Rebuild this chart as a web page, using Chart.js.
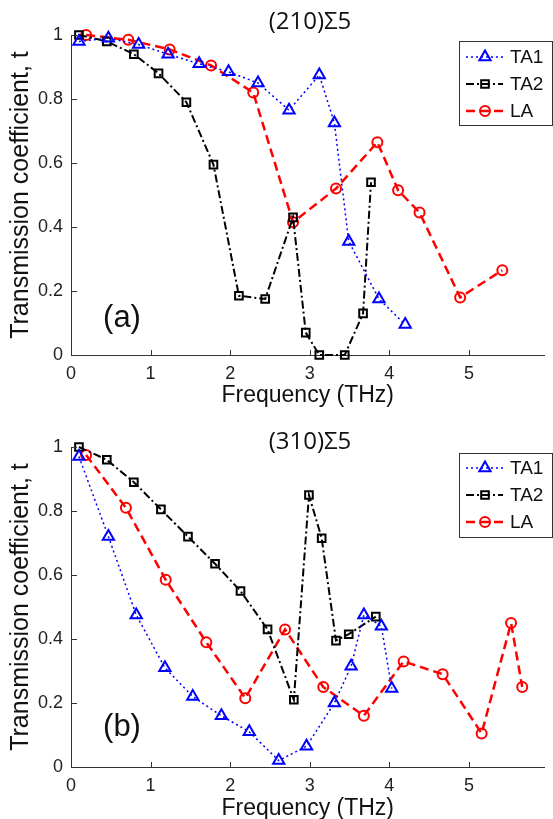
<!DOCTYPE html>
<html lang="en">
<head>
    <meta charset="UTF-8">
    <meta name="viewport" content="width=device-width, initial-scale=1.0">
    <title>Transmission coefficient</title>
    <script src="https://cdn.jsdelivr.net/npm/chart.js"></script>
    <style>
        html, body { margin: 0; padding: 0; background: #fff; }
        body { width: 553px; height: 819px; position: relative; overflow: hidden; }
        .panel { position: absolute; left: 0; width: 553px; }
        #panel-a { top: 0; height: 410px; }
        #panel-b { top: 410px; height: 409px; }
    </style>
</head>
<body>
    <div class="panel" id="panel-a"><canvas id="chart-a"></canvas></div>
    <div class="panel" id="panel-b"><canvas id="chart-b"></canvas></div>

    <script>
        // (210)Σ5
        const freqA_TA1 = [0.10, 0.47, 0.85, 1.22, 1.61, 1.98, 2.35, 2.74, 3.12, 3.31, 3.49, 3.87, 4.20];
        const transA_TA1 = [0.98, 0.99, 0.97, 0.94, 0.91, 0.885, 0.85, 0.765, 0.875, 0.725, 0.355, 0.175, 0.095];
        const freqA_TA2 = [0.10, 0.45, 0.79, 1.10, 1.45, 1.79, 2.11, 2.44, 2.79, 2.95, 3.12, 3.44, 3.67, 3.77];
        const transA_TA2 = [1.0, 0.98, 0.94, 0.88, 0.79, 0.595, 0.185, 0.175, 0.43, 0.07, 0.0, 0.0, 0.13, 0.54];
        const freqA_LA = [0.19, 0.72, 1.24, 1.76, 2.29, 2.79, 3.33, 3.85, 4.11, 4.38, 4.89, 5.42];
        const transA_LA = [1.0, 0.985, 0.955, 0.905, 0.82, 0.415, 0.52, 0.665, 0.515, 0.445, 0.18, 0.265];

        // (310)Σ5
        const freqB_TA1 = [0.10, 0.47, 0.82, 1.18, 1.53, 1.89, 2.24, 2.61, 2.96, 3.31, 3.52, 3.68, 3.90, 4.03];
        const transB_TA1 = [0.97, 0.72, 0.475, 0.31, 0.22, 0.16, 0.11, 0.02, 0.065, 0.20, 0.315, 0.475, 0.44, 0.245];
        const freqB_TA2 = [0.10, 0.45, 0.79, 1.13, 1.47, 1.81, 2.13, 2.47, 2.80, 2.99, 3.15, 3.33, 3.49, 3.83];
        const transB_TA2 = [1.0, 0.96, 0.89, 0.805, 0.72, 0.635, 0.55, 0.43, 0.21, 0.85, 0.715, 0.395, 0.415, 0.47];
        const freqB_LA = [0.19, 0.69, 1.19, 1.70, 2.19, 2.69, 3.17, 3.68, 4.18, 4.67, 5.16, 5.53, 5.67];
        const transB_LA = [0.975, 0.81, 0.585, 0.39, 0.215, 0.43, 0.25, 0.16, 0.33, 0.29, 0.105, 0.45, 0.25];

        const seriesNames = ['TA1', 'TA2', 'LA'];
        const xTicks = [0, 1, 2, 3, 4, 5];
        const yTicks = [0, 0.2, 0.4, 0.6, 0.8, 1];

        const FONT = '"Liberation Sans", Arial, sans-serif';
        const TITLE_FONT = '"Open Sans", "Liberation Sans", sans-serif';

        const styles = {
            TA1: { color: '#0000ff', dash: [2, 3], width: 1.5, point: 'triangle', radius: 6.5 },
            TA2: { color: '#000000', dash: [8, 3, 2, 3], width: 2, point: 'rect', radius: 5.4 },
            LA:  { color: '#ff0000', dash: [9, 5], width: 2.5, point: 'circle', radius: 5 }
        };

        function makeSet(name, freq, trans) {
            const s = styles[name];
            return {
                label: name,
                data: freq.map((f, i) => ({ x: f, y: trans[i] })),
                showLine: true,
                borderColor: s.color,
                borderWidth: s.width,
                borderDash: s.dash,
                pointStyle: s.point,
                pointRadius: s.radius,
                pointHoverRadius: s.radius,
                pointBorderWidth: 2,
                pointBorderColor: s.color,
                pointBackgroundColor: 'rgba(0,0,0,0)',
                fill: false,
                tension: 0,
                clip: false
            };
        }

        function drawMarker(ctx, style, x, y, r, color) {
            ctx.save();
            ctx.strokeStyle = color;
            ctx.lineWidth = 2;
            ctx.setLineDash([]);
            ctx.beginPath();
            if (style === 'triangle') {
                for (let k = 0; k < 3; k++) {
                    const a = k * 2 * Math.PI / 3;
                    const px = x + Math.sin(a) * r, py = y - Math.cos(a) * r;
                    if (k === 0) ctx.moveTo(px, py); else ctx.lineTo(px, py);
                }
                ctx.closePath();
            } else if (style === 'rect') {
                const h = Math.SQRT1_2 * r;
                ctx.rect(x - h, y - h, 2 * h, 2 * h);
            } else {
                ctx.arc(x, y, r, 0, Math.PI * 2);
            }
            ctx.stroke();
            ctx.restore();
        }

        // title, panel letter, inward ticks and boxed legend
        const decorations = {
            id: 'decorations',
            afterDraw(chart, args, opts) {
                const ctx = chart.ctx;
                const xs = chart.scales.x, ys = chart.scales.y;
                const area = chart.chartArea;

                ctx.save();
                ctx.strokeStyle = '#333';
                ctx.lineWidth = 1;
                xTicks.forEach(v => {
                    const px = Math.round(xs.getPixelForValue(v)) + 0.5;
                    ctx.beginPath();
                    ctx.moveTo(px, area.bottom);
                    ctx.lineTo(px, area.bottom - 5);
                    ctx.stroke();
                });
                yTicks.forEach(v => {
                    const py = Math.round(ys.getPixelForValue(v)) + 0.5;
                    ctx.beginPath();
                    ctx.moveTo(area.left, py);
                    ctx.lineTo(area.left + 6, py);
                    ctx.stroke();
                });

                ctx.fillStyle = '#111';
                ctx.textAlign = 'center';
                ctx.textBaseline = 'middle';
                ctx.font = '24px ' + TITLE_FONT;
                ctx.fillText(opts.title, 310, opts.titleY);

                ctx.font = '31px ' + FONT;
                ctx.fillText(opts.letter, 122, opts.letterY);

                // legend box
                const lg = opts.legend;
                ctx.fillStyle = '#fff';
                ctx.fillRect(lg.x, lg.y, lg.w, lg.h);
                ctx.strokeStyle = '#333';
                ctx.strokeRect(lg.x + 0.5, lg.y + 0.5, lg.w, lg.h);
                seriesNames.forEach((name, i) => {
                    const s = styles[name];
                    const ry = lg.y + lg.firstRow + i * lg.rowGap;
                    ctx.save();
                    ctx.strokeStyle = s.color;
                    ctx.lineWidth = s.width;
                    ctx.setLineDash(s.dash);
                    ctx.beginPath();
                    ctx.moveTo(lg.x + 7, ry);
                    ctx.lineTo(lg.x + 44, ry);
                    ctx.stroke();
                    ctx.restore();
                    drawMarker(ctx, s.point, lg.x + 26, ry, s.radius, s.color);
                    ctx.fillStyle = '#111';
                    ctx.textAlign = 'left';
                    ctx.font = '19px ' + FONT;
                    ctx.fillText(name, lg.x + 51, ry + 1);
                });
                ctx.restore();
            }
        };

        function buildChart(canvasId, sets, cfg) {
            return new Chart(document.getElementById(canvasId).getContext('2d'), {
                type: 'scatter',
                data: { datasets: sets },
                options: {
                    responsive: true,
                    maintainAspectRatio: false,
                    animation: false,
                    layout: { padding: { top: cfg.padTop, left: 0, right: 0, bottom: 0 } },
                    plugins: {
                        legend: { display: false },
                        tooltip: { enabled: false },
                        decorations: cfg.deco
                    },
                    scales: {
                        x: {
                            type: 'linear',
                            min: 0,
                            max: 5.95,
                            afterBuildTicks: s => { s.ticks = xTicks.map(v => ({ value: v })); },
                            afterFit: s => { s.height = cfg.xAxisH; },
                            grid: { display: true, drawOnChartArea: false, drawTicks: false },
                            border: { display: true, color: '#333', width: 1 },
                            ticks: {
                                color: '#222',
                                font: { family: FONT, size: 18 },
                                padding: 8,
                                maxRotation: 0,
                                autoSkip: false
                            },
                            title: {
                                display: true,
                                text: 'Frequency (THz)',
                                color: '#111',
                                font: { family: FONT, size: 23 },
                                padding: { top: 0, bottom: cfg.xTitlePad }
                            }
                        },
                        y: {
                            type: 'linear',
                            min: 0,
                            max: 1,
                            afterBuildTicks: s => { s.ticks = yTicks.map(v => ({ value: v })); },
                            afterFit: s => { s.width = 71; },
                            grid: { display: true, drawOnChartArea: false, drawTicks: false },
                            border: { display: true, color: '#333', width: 1 },
                            ticks: {
                                color: '#222',
                                font: { family: FONT, size: 18 },
                                padding: 8,
                                callback: v => String(Math.round(v * 10) / 10)
                            },
                            title: {
                                display: true,
                                text: 'Transmission coefficient, t',
                                color: '#111',
                                font: { family: FONT, size: 25 },
                                padding: { top: 6, bottom: 0 }
                            }
                        }
                    }
                },
                plugins: [decorations]
            });
        }

        buildChart('chart-a', [
            makeSet('TA1', freqA_TA1, transA_TA1),
            makeSet('TA2', freqA_TA2, transA_TA2),
            makeSet('LA', freqA_LA, transA_LA)
        ], {
            padTop: 35,
            xAxisH: 55,
            xTitlePad: 1,
            deco: {
                title: '(210)Σ5',
                titleY: 22,
                letter: '(a)',
                letterY: 318,
                legend: { x: 459, y: 41, w: 93, h: 84, firstRow: 16, rowGap: 27 }
            }
        });

        buildChart('chart-b', [
            makeSet('TA1', freqB_TA1, transB_TA1),
            makeSet('TA2', freqB_TA2, transB_TA2),
            makeSet('LA', freqB_LA, transB_LA)
        ], {
            padTop: 37,
            xAxisH: 52,
            xTitlePad: -3,
            deco: {
                title: '(310)Σ5',
                titleY: 32,
                letter: '(b)',
                letterY: 317,
                legend: { x: 459, y: 43, w: 93, h: 84, firstRow: 15, rowGap: 27 }
            }
        });
    </script>
</body>
</html>
